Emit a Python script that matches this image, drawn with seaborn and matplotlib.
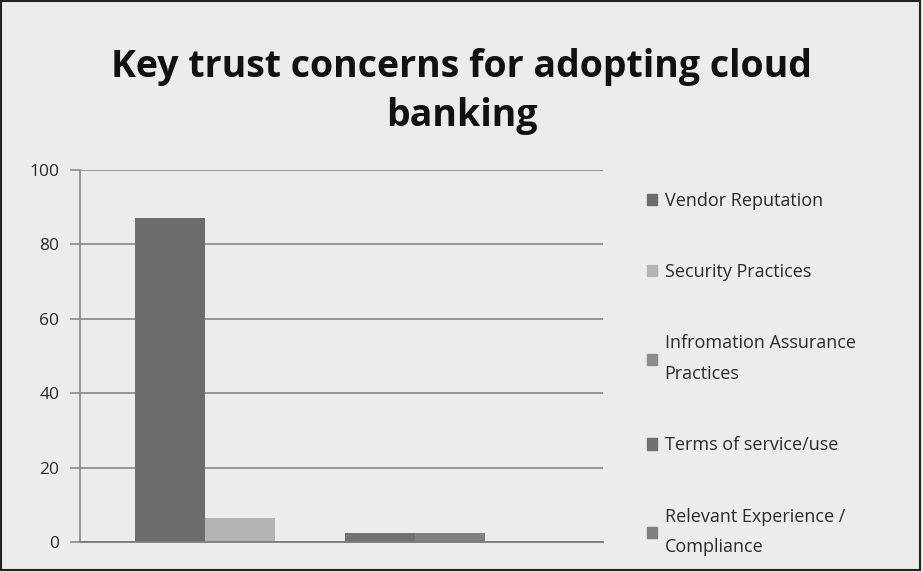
import pandas as pd
import matplotlib
matplotlib.use("Agg")
import matplotlib.pyplot as plt
import seaborn as sns

# ── Data ─────────────────────────────────────────────────────
concerns = ["Vendor Reputation", "Security Practices",
            "Infromation Assurance Practices", "Terms of service/use",
            "Relevant Experience / Compliance"]
legend_labels = ["Vendor Reputation", "Security Practices",
                 "Infromation Assurance\nPractices", "Terms of service/use",
                 "Relevant Experience /\nCompliance"]
values = [87, 6.5, 0, 2.5, 2.5]
colors = ["#6c6c6c", "#b3b3b3", "#8c8c8c", "#717171", "#808080"]
yticks = [0, 20, 40, 60, 80, 100]

df = pd.DataFrame({"group": ["all"] * len(concerns),
                   "concern": concerns,
                   "value": values})

# ── Plot ─────────────────────────────────────────────────────
sns.set_theme(style="white")
plt.rcParams["font.family"] = ["Open Sans", "DejaVu Sans"]

fig = plt.figure(figsize=(9.23, 5.72), dpi=100)
fig.patch.set_facecolor("#ececec")
ax = fig.add_axes([0.0867, 0.0524, 0.5666, 0.6503])
ax.set_facecolor("none")

sns.barplot(data=df, x="group", y="value", hue="concern",
            palette=dict(zip(concerns, colors)), width=0.67,
            saturation=1, legend=False, linewidth=0, ax=ax)

ax.set_xlim(-0.44, 0.56)
ax.set_ylim(0, 100)
ax.set_yticks(yticks)
ax.set_xticks([])
ax.set_xlabel("")
ax.set_ylabel("")
ax.grid(axis="y", color="#8f8f8f", linewidth=1.3)
ax.set_axisbelow(True)
for s in ["top", "right"]:
    ax.spines[s].set_visible(False)
ax.spines["left"].set_color("#8a8a8a")
ax.spines["bottom"].set_color("#7a7a7a")
ax.spines["bottom"].set_linewidth(1.3)
ax.tick_params(axis="y", left=True, length=7, width=1.2, color="#8a8a8a",
               labelsize=12.5, labelcolor="#2a2a2a", pad=8)

fig.text(0.5, 0.84, "Key trust concerns for adopting cloud\nbanking",
         ha="center", va="center", fontsize=27, fontweight="bold",
         color="#111111", linespacing=1.4)

handles = [plt.Rectangle((0, 0), 1, 1, color=c) for c in colors]
leg = fig.legend(handles, legend_labels, loc="upper left",
                 bbox_to_anchor=(0.683, 0.693), frameon=False, fontsize=13,
                 labelcolor="#2a2a2a", handlelength=0.6, handleheight=0.6,
                 handletextpad=0.4, labelspacing=2.95)
for t in leg.get_texts():
    t.set_linespacing(1.9)

fig.add_artist(plt.Rectangle((0.001, 0.003), 0.996, 0.995,
                             transform=fig.transFigure, fill=False,
                             edgecolor="#222222", linewidth=1.5))

plt.savefig("out.png", dpi=100)
